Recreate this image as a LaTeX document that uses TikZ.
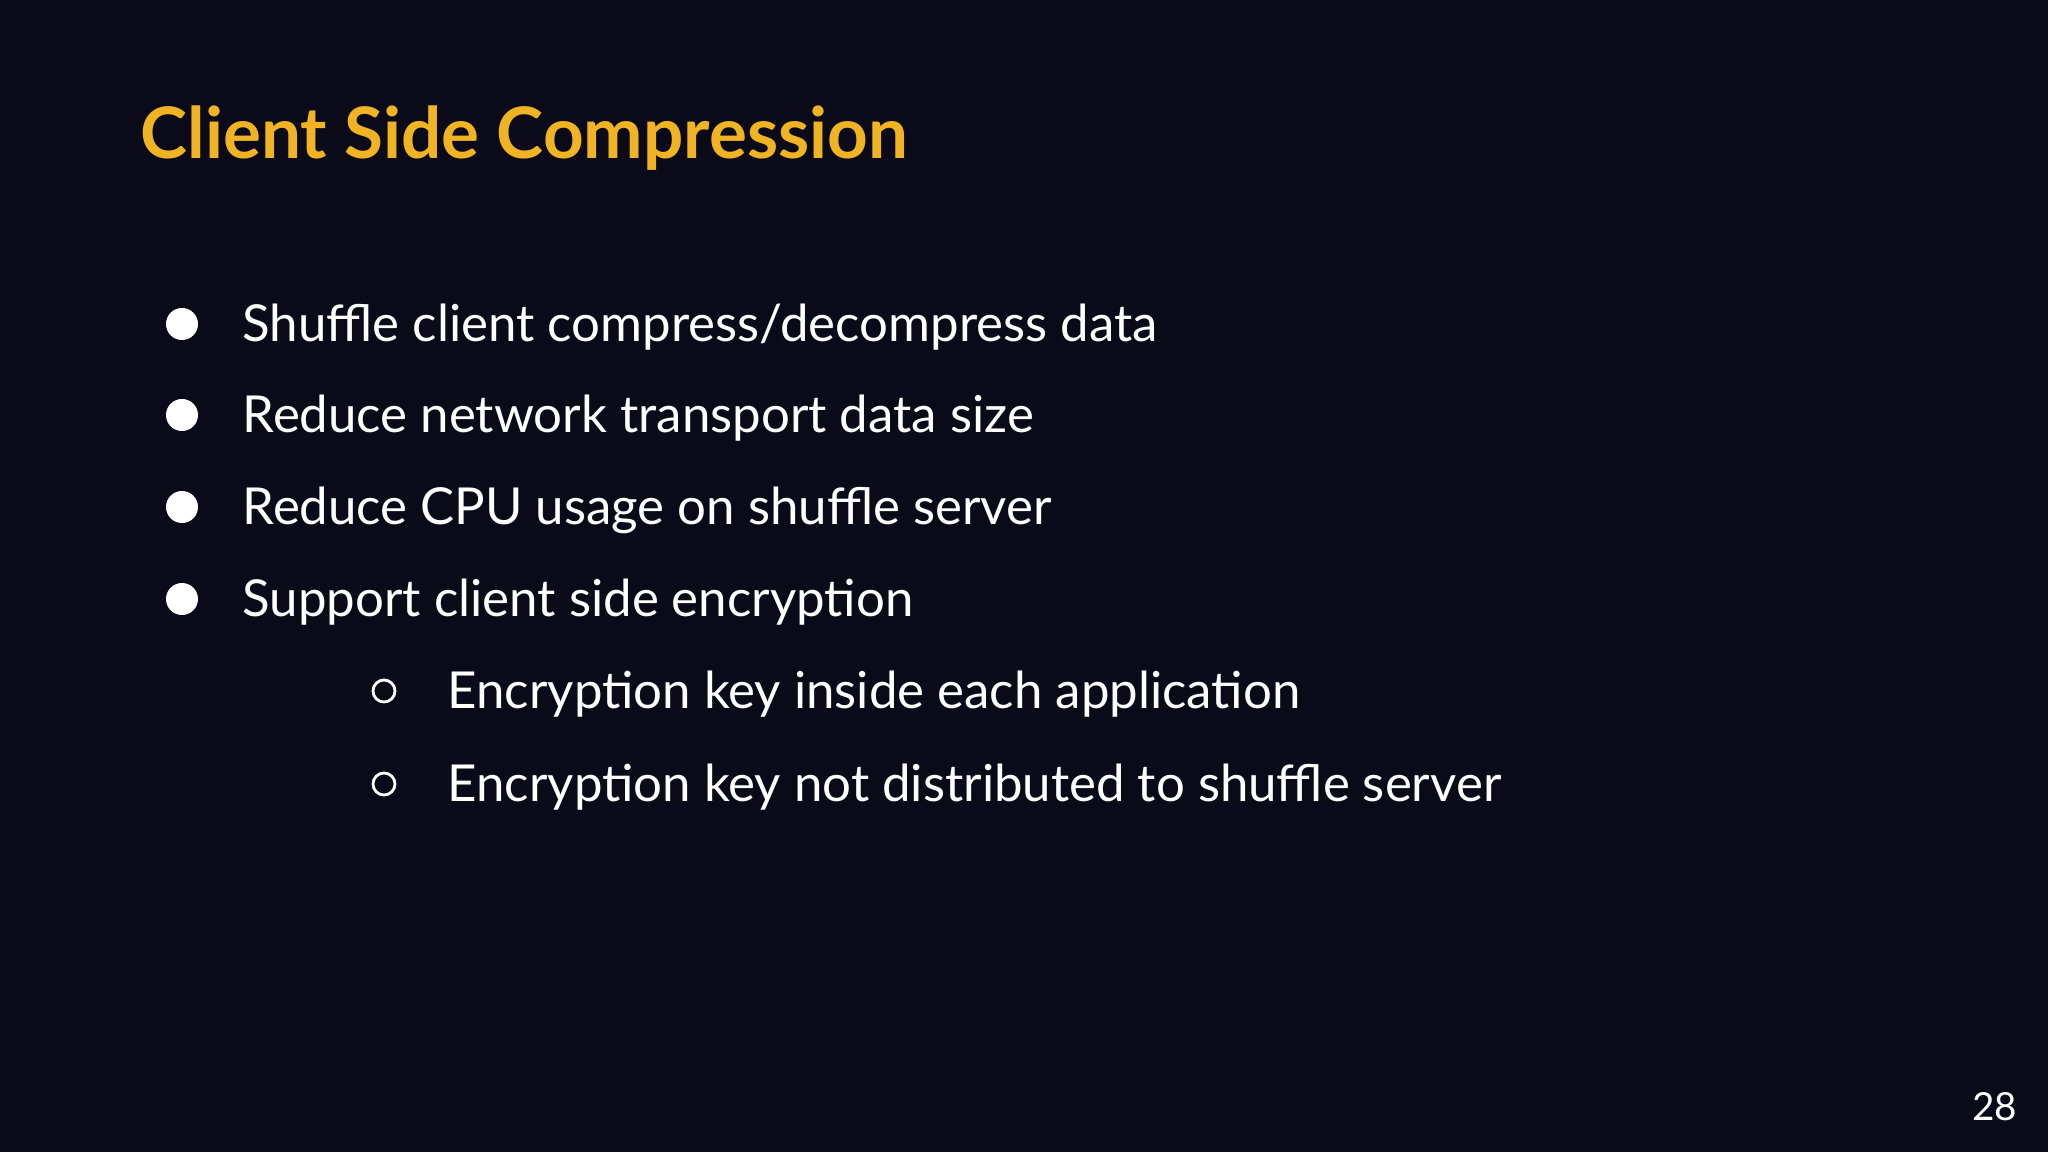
\documentclass[tikz,border=0pt]{standalone}
\usepackage{fontspec}
\setmainfont{Lato}
\definecolor{bg}{HTML}{0B0A19}
\definecolor{gold}{HTML}{F0B323}
\tikzset{
 item/.style={anchor=base west, text=white, font=\fontsize{14.5}{17}\selectfont, inner sep=0pt},
 dot/.style={circle, fill=white, minimum size=0.32cm, inner sep=0pt},
 ring/.style={circle, draw=white, line width=0.8pt, minimum size=0.22cm, inner sep=0pt}
}
\begin{document}
\begin{tikzpicture}[x=1cm,y=1cm]
\fill[bg] (0,0) rectangle (20.48,-11.52);
\useasboundingbox (0,0) rectangle (20.48,-11.52);
\node[anchor=base west, text=gold, font=\fontsize{20.2}{24}\selectfont\bfseries, inner sep=0pt] (title) at (1.40,-1.59) {Client Side Compression};
\foreach \n/\y/\t in {a/3.24/{Shuffle client compress/decompress data}, b/4.15/{Reduce network transport data size}, c/5.07/{Reduce CPU usage on shuffle server}, d/5.99/{Support client side encryption}}{
  \node[dot] (dot\n) at (1.82,-\y) {};
  \node[item] (t\n) at (2.42,-\y-0.175) {\t};
}
\foreach \n/\y/\t in {e/6.91/{Encryption key inside each application}, f/7.84/{Encryption key not distributed to shuffle server}}{
  \node[ring] (ring\n) at (3.84,-\y) {};
  \node[item] (t\n) at (4.47,-\y-0.175) {\t};
}
\node[anchor=base east, text=white, font=\fontsize{11}{13}\selectfont, inner sep=0pt] (page) at (20.18,-11.20) {28};
\end{tikzpicture}
\end{document}
